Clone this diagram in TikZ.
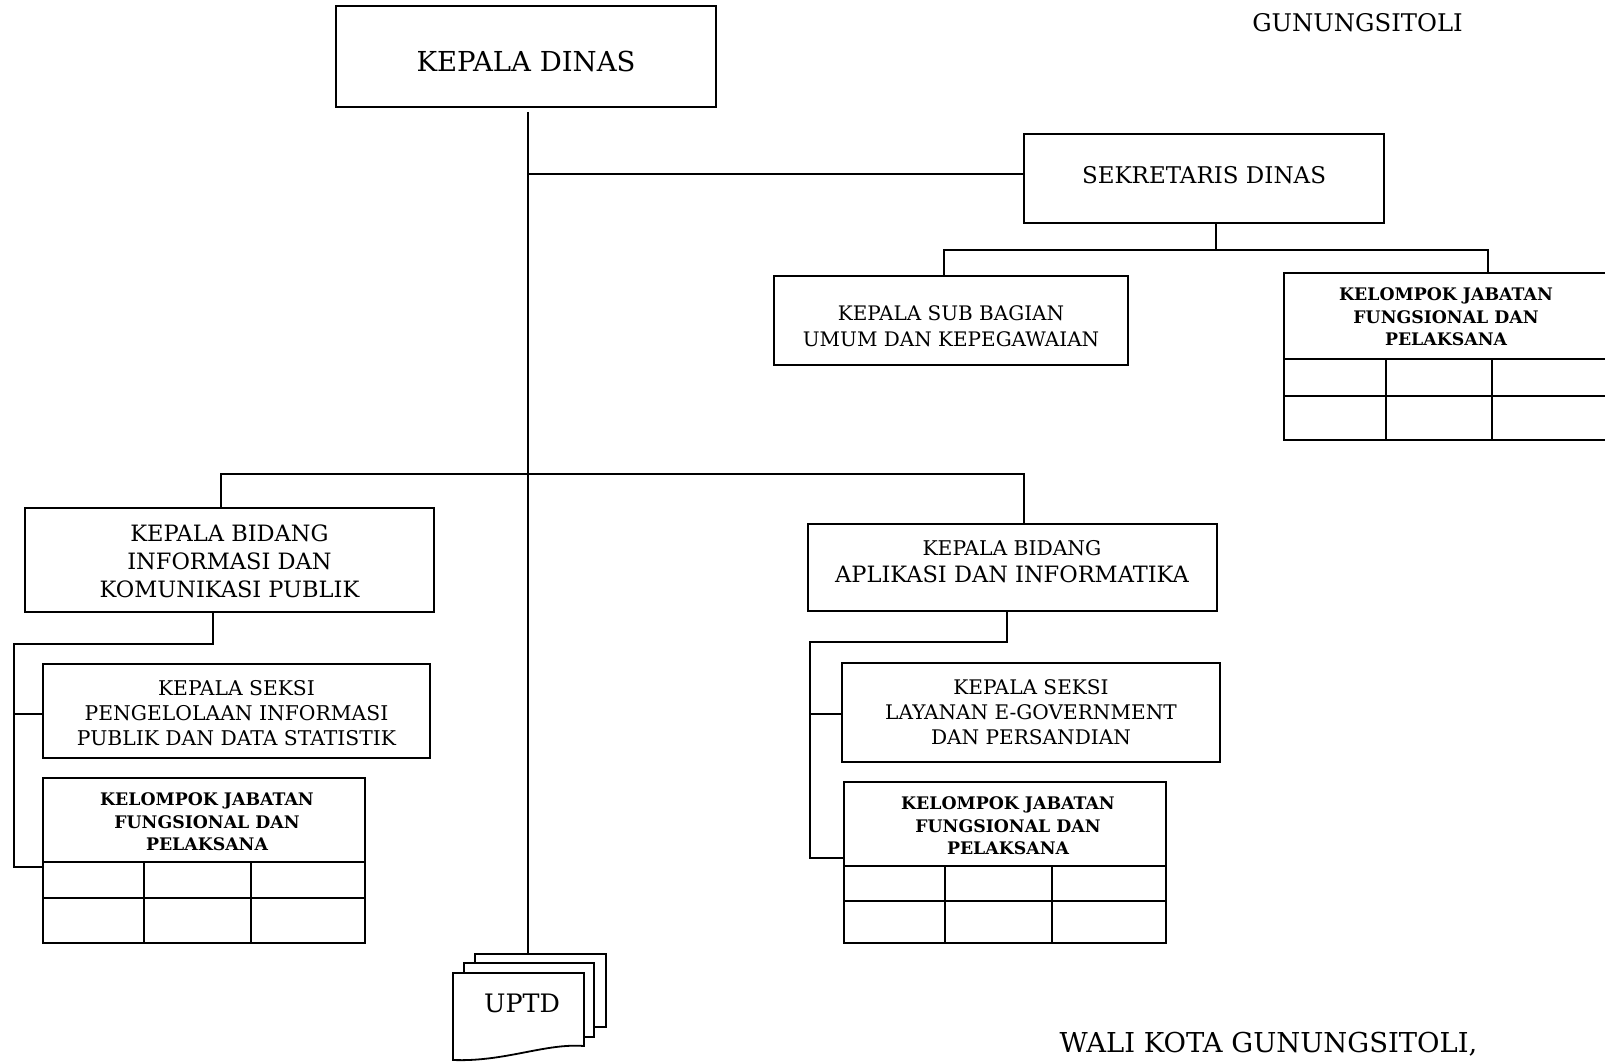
\documentclass[tikz,border=0pt]{standalone}
\usepackage{fontspec}
\setmainfont{DejaVu Serif}
\newcommand\fs[2]{\fontsize{#1}{#2}\selectfont}
% a framed box given by its corners (x1,y1) and (x2,y2)
\newcommand\orgbox[5]{\node[box, minimum width={#4-#2}, minimum height={#5-#3}] (#1) at ({(#2+#4)/2},{(#3+#5)/2}) {};}
\begin{document}
\begin{tikzpicture}[x=1pt, y=-1pt, line width=1.8pt,
  box/.style={draw, rectangle, inner sep=0pt, outer sep=0pt, fill=white},
  lbl/.style={align=center, inner sep=0pt},
  kjf/.style={lbl, font=\bfseries\fs{17.3}{22.5}}]
\useasboundingbox (0,0) rectangle (1605,1062);

% ---- boxes ----
\orgbox{kd}{336}{6}{716}{107}
\orgbox{sd}{1024}{134}{1384}{223}
\orgbox{sub}{774}{276}{1128}{365}
\orgbox{kjfA}{1284}{273}{1608}{359}
\orgbox{bidA}{25}{508}{434}{612}
\orgbox{bidB}{808}{524}{1217}{611}
\orgbox{seksiA}{43}{664}{430}{758}
\orgbox{kjfB}{43}{778}{365}{862}
\orgbox{seksiB}{842}{663}{1220}{762}
\orgbox{kjfC}{844}{782}{1166}{866}

% ---- empty rows under the group headers ----
\draw (1284,359) -- (1284,440) -- (1608,440);
\draw (1284,396) -- (1608,396);
\draw (1386,359) -- (1386,440) (1492,359) -- (1492,440);

\draw (43,862) rectangle (365,943);
\draw (43,898) -- (365,898);
\draw (144,862) -- (144,943) (251,862) -- (251,943);

\draw (844,866) rectangle (1166,943);
\draw (844,901) -- (1166,901);
\draw (945,866) -- (945,943) (1052,866) -- (1052,943);

% ---- UPTD stack ----
\orgbox{uptdC}{475}{954}{606}{1027}
\orgbox{uptdB}{464}{963}{594}{1037}
\draw[fill=white] (453,973) -- (584,973) -- (584,1046)
  .. controls (545,1043) and (505,1062) .. (453,1060) -- cycle;
\node[lbl, font=\fs{25.4}{30}] (uptd) at (522,1003) {UPTD};

% ---- texts ----
\node[lbl, font=\fs{27.5}{32}] (kdT) at (526,61) {KEPALA DINAS};
\node[lbl, font=\fs{23}{28}] (sdT) at (1204,175) {SEKRETARIS DINAS};
\node[lbl, font=\fs{20}{26}] (subT) at (951,326) {KEPALA SUB BAGIAN\\UMUM DAN KEPEGAWAIAN};
\node[kjf] (kjfAT) at (1446,317) {KELOMPOK JABATAN\\FUNGSIONAL DAN\\PELAKSANA};
\node[lbl, font=\fs{22.5}{28}] (bidAT) at (229.5,561) {KEPALA BIDANG\\INFORMASI DAN\\KOMUNIKASI PUBLIK};
\node[lbl, font=\fs{22.5}{27}] (bidBT) at (1012,562) {{\fs{20.3}{27}KEPALA BIDANG}\\APLIKASI DAN INFORMATIKA};
\node[lbl, font=\fs{20.3}{25}] (seksiAT) at (236.5,713) {KEPALA SEKSI\\PENGELOLAAN INFORMASI\\PUBLIK DAN DATA STATISTIK};
\node[lbl, font=\fs{20.1}{25}] (seksiBT) at (1031,712) {KEPALA SEKSI\\LAYANAN E-GOVERNMENT\\DAN PERSANDIAN};
\node[kjf] (kjfBT) at (207,822) {KELOMPOK JABATAN\\FUNGSIONAL DAN\\PELAKSANA};
\node[kjf] (kjfCT) at (1008,826) {KELOMPOK JABATAN\\FUNGSIONAL DAN\\PELAKSANA};
\node[anchor=base, inner sep=0pt, font=\fs{24.3}{28}] (city) at (1357.5,32) {GUNUNGSITOLI};
\node[anchor=base, inner sep=0pt, font=\fs{27.4}{32}] (mayor) at (1268.5,1052) {WALI KOTA GUNUNGSITOLI,};

% ---- connectors ----
\coordinate (t0) at (528,112);
\draw (t0) -- (t0 |- uptdC.north);
\coordinate (j1) at (528,174);
\draw (j1) -- (j1 -| sd.west);

\coordinate (j2) at (1216,250);
\coordinate (j2a) at (944,250);
\coordinate (j2b) at (1488,250);
\draw (j2 |- sd.south) -- (j2);
\draw (j2a |- sub.north) -- (j2a) -- (j2b) -- (j2b |- kjfA.north);

\coordinate (h1) at (221,474);
\coordinate (h2) at (1024,474);
\draw (h1 |- bidA.north) -- (h1) -- (h2) -- (h2 |- bidB.north);

\coordinate (l1) at (213,644);
\coordinate (l2) at (14,644);
\coordinate (l3) at (14,867);
\coordinate (l4) at (14,714);
\draw (l1 |- bidA.south) -- (l1) -- (l2) -- (l3) -- (l3 -| kjfB.west);
\draw (l4) -- (l4 -| seksiA.west);

\coordinate (r1) at (1007,642);
\coordinate (r2) at (810,642);
\coordinate (r3) at (810,858);
\coordinate (r4) at (810,714);
\draw (r1 |- bidB.south) -- (r1) -- (r2) -- (r3) -- (r3 -| kjfC.west);
\draw (r4) -- (r4 -| seksiB.west);
\end{tikzpicture}
\end{document}
